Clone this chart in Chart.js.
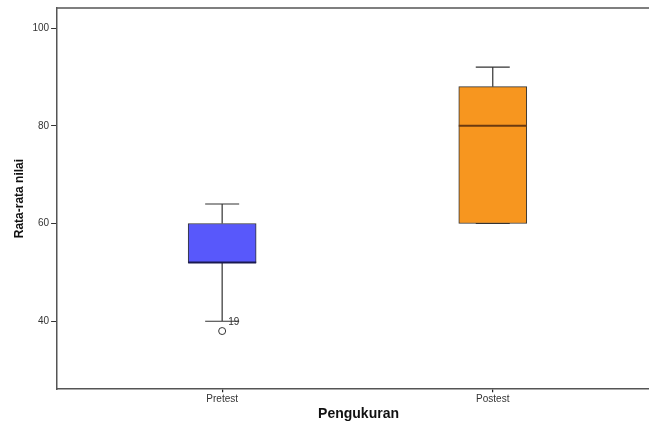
<!DOCTYPE html>
<html>
<head>
<meta charset="utf-8">
<script src="https://cdn.jsdelivr.net/npm/chart.js@4.4.0/dist/chart.umd.min.js"></script>
<style>
  html, body { margin: 0; padding: 0; background: #fff; overflow: hidden; }
  #wrap { width: 665px; height: 423px; }
</style>
</head>
<body>
<div id="wrap"><canvas id="boxChart" width="665" height="423"></canvas></div>
<script>
// box plot values
const categories = ['Pretest', 'Postest'];
const minVals = [40, 60];
const q1Vals = [52, 60];
const medianVals = [52, 80];
const q3Vals = [60, 88];
const maxVals = [64, 92];
const outlierVals = [[38], []];
const outlierLabels = [['19'], []];
const yTicks = [40, 60, 80, 100];
const boxColors = ['#5858fb', '#f7961f'];

const positions = categories.map((c, i) => i + 1);

// whiskers, caps, median, outlier labels and top frame
const boxExtras = {
  id: 'boxExtras',
  afterDatasetsDraw(chart) {
    const ctx = chart.ctx;
    const xs = chart.scales.x;
    const ys = chart.scales.y;
    const area = chart.chartArea;
    ctx.save();
    ctx.strokeStyle = '#333';
    ctx.lineWidth = 1.2;
    positions.forEach(function(p, i) {
      const cx = xs.getPixelForValue(p);
      const half = 17;
      ctx.beginPath();
      ctx.moveTo(cx, ys.getPixelForValue(q3Vals[i]));
      ctx.lineTo(cx, ys.getPixelForValue(maxVals[i]));
      ctx.moveTo(cx - half, ys.getPixelForValue(maxVals[i]));
      ctx.lineTo(cx + half, ys.getPixelForValue(maxVals[i]));
      ctx.moveTo(cx, ys.getPixelForValue(q1Vals[i]));
      ctx.lineTo(cx, ys.getPixelForValue(minVals[i]));
      ctx.moveTo(cx - half, ys.getPixelForValue(minVals[i]));
      ctx.lineTo(cx + half, ys.getPixelForValue(minVals[i]));
      ctx.stroke();
      // median
      ctx.beginPath();
      ctx.lineWidth = 2;
      ctx.strokeStyle = i == 0 ? '#1a1a50' : '#6b3a10';
      ctx.moveTo(cx - 34, ys.getPixelForValue(medianVals[i]));
      ctx.lineTo(cx + 34, ys.getPixelForValue(medianVals[i]));
      ctx.stroke();
      ctx.lineWidth = 1.2;
      ctx.strokeStyle = '#333';
      // outlier labels
      ctx.fillStyle = '#333';
      ctx.font = '10px "Liberation Sans", Arial, sans-serif';
      ctx.textBaseline = 'middle';
      outlierVals[i].forEach(function(v, k) {
        ctx.fillText(outlierLabels[i][k], cx + 6, ys.getPixelForValue(v) - 9);
      });
    });
    // top frame line
    ctx.beginPath();
    ctx.strokeStyle = '#555';
    ctx.lineWidth = 1.5;
    ctx.moveTo(area.left, area.top);
    ctx.lineTo(area.right, area.top);
    ctx.stroke();
    ctx.restore();
  }
};

const outlierPoints = [];
positions.forEach(function(p, i) {
  outlierVals[i].forEach(function(v) { outlierPoints.push({ x: p, y: v }); });
});

const chartCtx = document.getElementById('boxChart').getContext('2d');
const boxChart = new Chart(chartCtx, {
  type: 'bar',
  data: {
    datasets: [
      {
        type: 'bar',
        data: positions.map((p, i) => ({ x: p, y: [q1Vals[i], q3Vals[i]] })),
        backgroundColor: boxColors,
        borderColor: '#333',
        borderWidth: 1,
        borderSkipped: false,
        barThickness: 68
      },
      {
        type: 'scatter',
        data: outlierPoints,
        pointStyle: 'circle',
        pointRadius: 3.5,
        pointBorderColor: '#333',
        pointBackgroundColor: 'rgba(0,0,0,0)',
        pointBorderWidth: 1
      }
    ]
  },
  options: {
    responsive: false,
    animation: false,
    layout: { padding: { top: 7, right: 0, left: 12, bottom: 0 } },
    plugins: { legend: { display: false }, tooltip: { enabled: false } },
    scales: {
      x: {
        type: 'linear',
        offset: false,
        min: 0.39,
        max: 2.618,
        afterBuildTicks: function(axis) { axis.ticks = positions.map(p => ({ value: p })); },
        ticks: {
          callback: function(v) { return categories[v - 1]; },
          color: '#333',
          font: { family: '"Liberation Sans", Arial, sans-serif', size: 10, lineHeight: 1 },
          padding: 2,
          maxRotation: 0
        },
        grid: { offset: false, drawOnChartArea: false, drawTicks: true, tickLength: 3, color: '#222', lineWidth: 1.2 },
        border: { color: '#555', width: 1.5 },
        title: {
          display: true,
          text: 'Pengukuran',
          color: '#111',
          font: { family: '"Liberation Sans", Arial, sans-serif', size: 14, weight: 'bold' },
          padding: { top: 0, bottom: 0 }
        }
      },
      y: {
        min: 26.1,
        max: 104.1,
        afterBuildTicks: function(axis) { axis.ticks = yTicks.map(v => ({ value: v })); },
        ticks: {
          color: '#333',
          font: { family: '"Liberation Sans", Arial, sans-serif', size: 10 },
          padding: 2
        },
        grid: { drawOnChartArea: false, drawTicks: true, tickLength: 6, color: '#333' },
        border: { color: '#555', width: 1.5 },
        title: {
          display: true,
          text: 'Rata-rata nilai',
          color: '#111',
          font: { family: '"Liberation Sans", Arial, sans-serif', size: 12, weight: 'bold' },
          padding: { top: 0, bottom: 4 }
        }
      }
    }
  },
  plugins: [boxExtras]
});
</script>
</body>
</html>
